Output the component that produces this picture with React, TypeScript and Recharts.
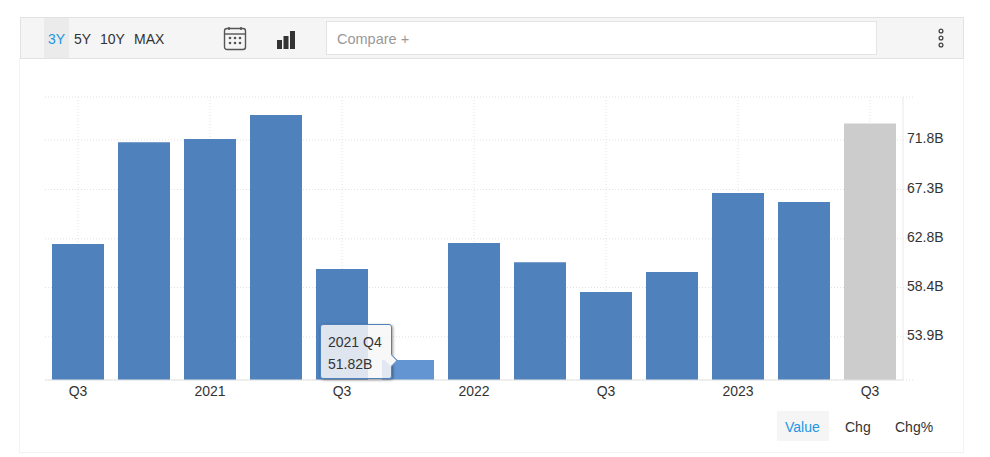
import React from "react";
import { BarChart, Bar, XAxis, YAxis, CartesianGrid, Cell, Tooltip } from "recharts";

const categories = ["2020 Q3","2020 Q4","2021 Q1","2021 Q2","2021 Q3","2021 Q4","2022 Q1","2022 Q2","2022 Q3","2022 Q4","2023 Q1","2023 Q2","2023 Q3"];
const values = [62.35,71.6,71.88,74.06,60.08,51.82,62.44,60.7,57.99,59.8,66.98,66.16,73.3];
const yTicks = [50,53.92,58.4,62.82,67.3,71.8,75.7];
const yDomain = [50,75.7];
const rangeLabels = ["5Y","10Y","MAX"];
const rangeLefts = [74,100,134];
const forecastCategory = "2023 Q3";
const hoverCategory = "2021 Q4";

const data = categories.map((category, i) => ({ category, value: values[i] }));
const GRID = "#e2e2e2";
const FONT = "'Liberation Sans', Arial, sans-serif";

const xLabel = (c: string) => c.endsWith("Q1") ? c.slice(0, 4) : c.endsWith("Q3") ? "Q3" : "";
const yLabel = (v: number) => (v === yDomain[0] || v === yDomain[1]) ? "" : `${v.toFixed(1)}B`;
const labelledCenters = ({ offset }: any) =>
  categories.flatMap((c, i) => xLabel(c) ? [offset.left + (offset.width * (i + 0.5)) / categories.length] : []);

const abs = (left: number, top: number, width: number, height: number, extra: React.CSSProperties = {}): React.CSSProperties => ({
  position: "absolute", left, top, width, height, boxSizing: "border-box", ...extra,
});
const label = (left: number, top: number, text: string, color = "#333", size = 14) => (
  <div key={text} style={{ position: "absolute", left, top, fontSize: size, lineHeight: "18px", color, whiteSpace: "nowrap" }}>{text}</div>
);

function TipContent({ active }: any) {
  if (!active) return null;
  const i = categories.indexOf(hoverCategory);
  return (
    <div style={{ position: "relative", width: 72, height: 55, boxSizing: "border-box", background: "rgba(247,247,247,0.85)", border: "1px solid #4f81bd", borderRadius: 3, boxShadow: "1px 1px 3px rgba(0,0,0,0.4)", fontFamily: FONT, fontSize: 14, color: "#333", padding: "8px 7px" }}>
      <div style={{ lineHeight: "18px", marginBottom: 4, whiteSpace: "nowrap" }}>{categories[i]}</div>
      <div style={{ lineHeight: "18px", whiteSpace: "nowrap" }}>{values[i].toFixed(2)}B</div>
      <div style={{ position: "absolute", right: -5, top: 31, width: 8, height: 8, background: "#f7f7f7", transform: "rotate(45deg)", borderTop: "1px solid #4f81bd", borderRight: "1px solid #4f81bd" }} />
    </div>
  );
}

export default function App() {
  return (
    <div style={{ position: "absolute", left: 0, top: 0, width: 990, height: 457, background: "#fff", overflow: "hidden", fontFamily: FONT }}>
      <div style={abs(19, 58, 945, 395, { border: "1px solid #f3f3f3" })} />
      <div style={abs(20, 17, 944, 42, { background: "#f5f5f5", border: "1px solid #e2e2e2" })} />
      <div style={abs(44, 18, 25, 40, { background: "#ebebeb" })} />
      {label(48, 30, "3Y", "#2196e3")}
      {rangeLabels.map((t, i) => label(rangeLefts[i], 30, t))}
      <svg style={abs(223, 26, 24, 25)} viewBox="0 0 24 25">
        <rect x="1.5" y="2.5" width="21" height="21" rx="2.5" fill="none" stroke="#555" strokeWidth="1.4" />
        <line x1="1.5" y1="8" x2="22.5" y2="8" stroke="#555" strokeWidth="1.4" />
        <line x1="6" y1="1" x2="6" y2="4" stroke="#555" strokeWidth="1.6" />
        <line x1="18" y1="1" x2="18" y2="4" stroke="#555" strokeWidth="1.6" />
        {[7, 12, 17].flatMap((x) => [12, 17].map((y) => <circle key={`${x}-${y}`} cx={x} cy={y} r="1.3" fill="#555" />))}
      </svg>
      <svg style={abs(277, 31, 18, 18)} viewBox="0 0 18 18">
        <rect x="0" y="9" width="5" height="9" fill="#333" />
        <rect x="6.5" y="5" width="5" height="13" fill="#333" />
        <rect x="13" y="0" width="5" height="18" fill="#333" />
      </svg>
      <div style={abs(326, 21, 551, 34, { background: "#fff", border: "1px solid #e4e4e4" })} />
      {label(337, 30, "Compare +", "#999", 14.5)}
      <svg style={abs(936, 28, 10, 20)} viewBox="0 0 10 20">
        {[3, 10, 17].map((y) => <circle key={y} cx="5" cy={y} r="1.9" fill="none" stroke="#444" strokeWidth="1.3" />)}
      </svg>

      <div style={abs(0, 0, 990, 457)}>
        <BarChart width={990} height={457} data={data} margin={{ top: 97, right: 27, bottom: 47, left: 45 }} barCategoryGap={7}>
          <CartesianGrid stroke={GRID} strokeDasharray="1 2" verticalCoordinatesGenerator={labelledCenters} />
          <XAxis dataKey="category" interval={0} height={30} tickFormatter={xLabel} tickLine={false}
            axisLine={{ stroke: "#e3e3e3" }} tick={{ fill: "#333", fontSize: 14, fontFamily: FONT }} tickMargin={0} />
          <YAxis yAxisId="left" orientation="left" width={0} domain={yDomain} tick={false} tickLine={false} axisLine={{ stroke: GRID, strokeDasharray: "1 2" }} />
          <YAxis orientation="right" width={60} domain={yDomain} ticks={yTicks} interval={0} tickFormatter={yLabel} tickSize={10}
            tickLine={{ stroke: GRID, strokeDasharray: "1 2" }} axisLine={{ stroke: "#e8e8e8" }} dy={-1.6} tickMargin={-6}
            tick={{ fill: "#333", fontSize: 14, fontFamily: FONT }} />
          <Tooltip defaultIndex={categories.indexOf(hoverCategory)} content={<TipContent />} cursor={false}
            position={{ x: 320, y: 324 }} isAnimationActive={false} wrapperStyle={{ zIndex: 5, outline: "none" }} />
          <Bar dataKey="value" isAnimationActive={false} activeBar={false}>
            {categories.map((c) => (
              <Cell key={c} fill={c === forecastCategory ? "#cccccc" : c === hoverCategory ? "#6395d3" : "#4f81bd"} />
            ))}
          </Bar>
        </BarChart>
      </div>

      <div style={abs(777, 411, 52, 30, { background: "#f5f5f5" })} />
      {label(785, 418, "Value", "#2196e3")}
      {label(845, 418, "Chg")}
      {label(895, 418, "Chg%")}
    </div>
  );
}
